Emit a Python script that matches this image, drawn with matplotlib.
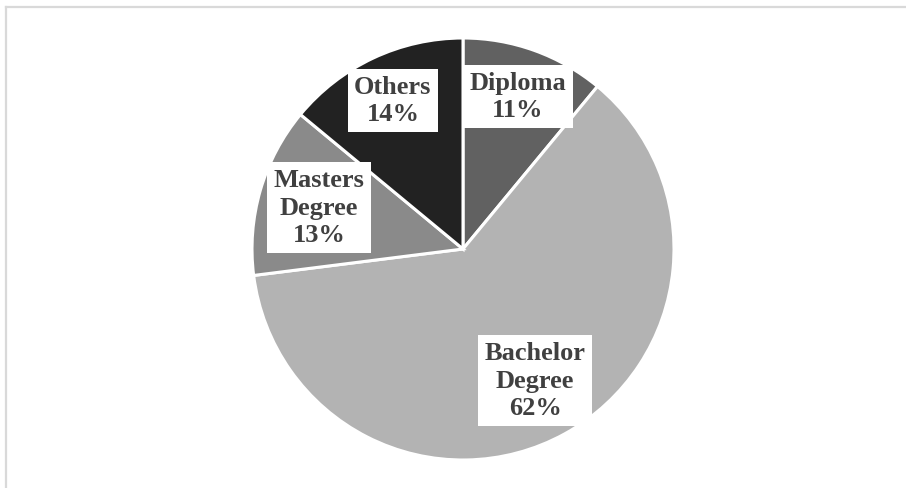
import numpy as np
import matplotlib.pyplot as plt
from matplotlib.lines import Line2D

# Education level share
labels = ['Diploma', 'Bachelor\nDegree', 'Masters\nDegree', 'Others']
shares = [11, 62, 13, 14]
colors = ['#616161', '#b3b3b3', '#8a8a8a', '#222222']
label_radius = [0.77, 0.71, 0.71, 0.78]

W, H = 906, 489
fig = plt.figure(figsize=(W / 100, H / 100), dpi=100)

# pie centre and radius in pixels
cx, cy, r = 463, 239, 211
ax = fig.add_axes([(cx - r) / W, (cy - r) / H, 2 * r / W, 2 * r / H])

wedges, _ = ax.pie(shares, colors=colors, startangle=90, counterclock=False,
                   radius=1.0, wedgeprops=dict(edgecolor='white', linewidth=2.2))
ax.set_xlim(-1, 1)
ax.set_ylim(-1, 1)
ax.set_aspect('equal')
ax.axis('off')

for w, lab, val, rd in zip(wedges, labels, shares, label_radius):
    ang = np.deg2rad((w.theta1 + w.theta2) / 2)
    ax.text(rd * np.cos(ang), rd * np.sin(ang), f'{lab}\n{val}%',
            ha='center', va='center', fontsize=19, fontweight='bold',
            family='Liberation Serif', color='#404040', linespacing=1.25,
            bbox=dict(facecolor='white', edgecolor='none', pad=4.5))

# outer chart frame (top and left edges visible)
fig.add_artist(Line2D([6 / W, 1], [1 - 8 / H, 1 - 8 / H], color='#d9d9d9', lw=1.6,
                      transform=fig.transFigure))
fig.add_artist(Line2D([6 / W, 6 / W], [0, 1 - 8 / H], color='#d9d9d9', lw=1.6,
                      transform=fig.transFigure))

fig.savefig('out.png', dpi=100)
